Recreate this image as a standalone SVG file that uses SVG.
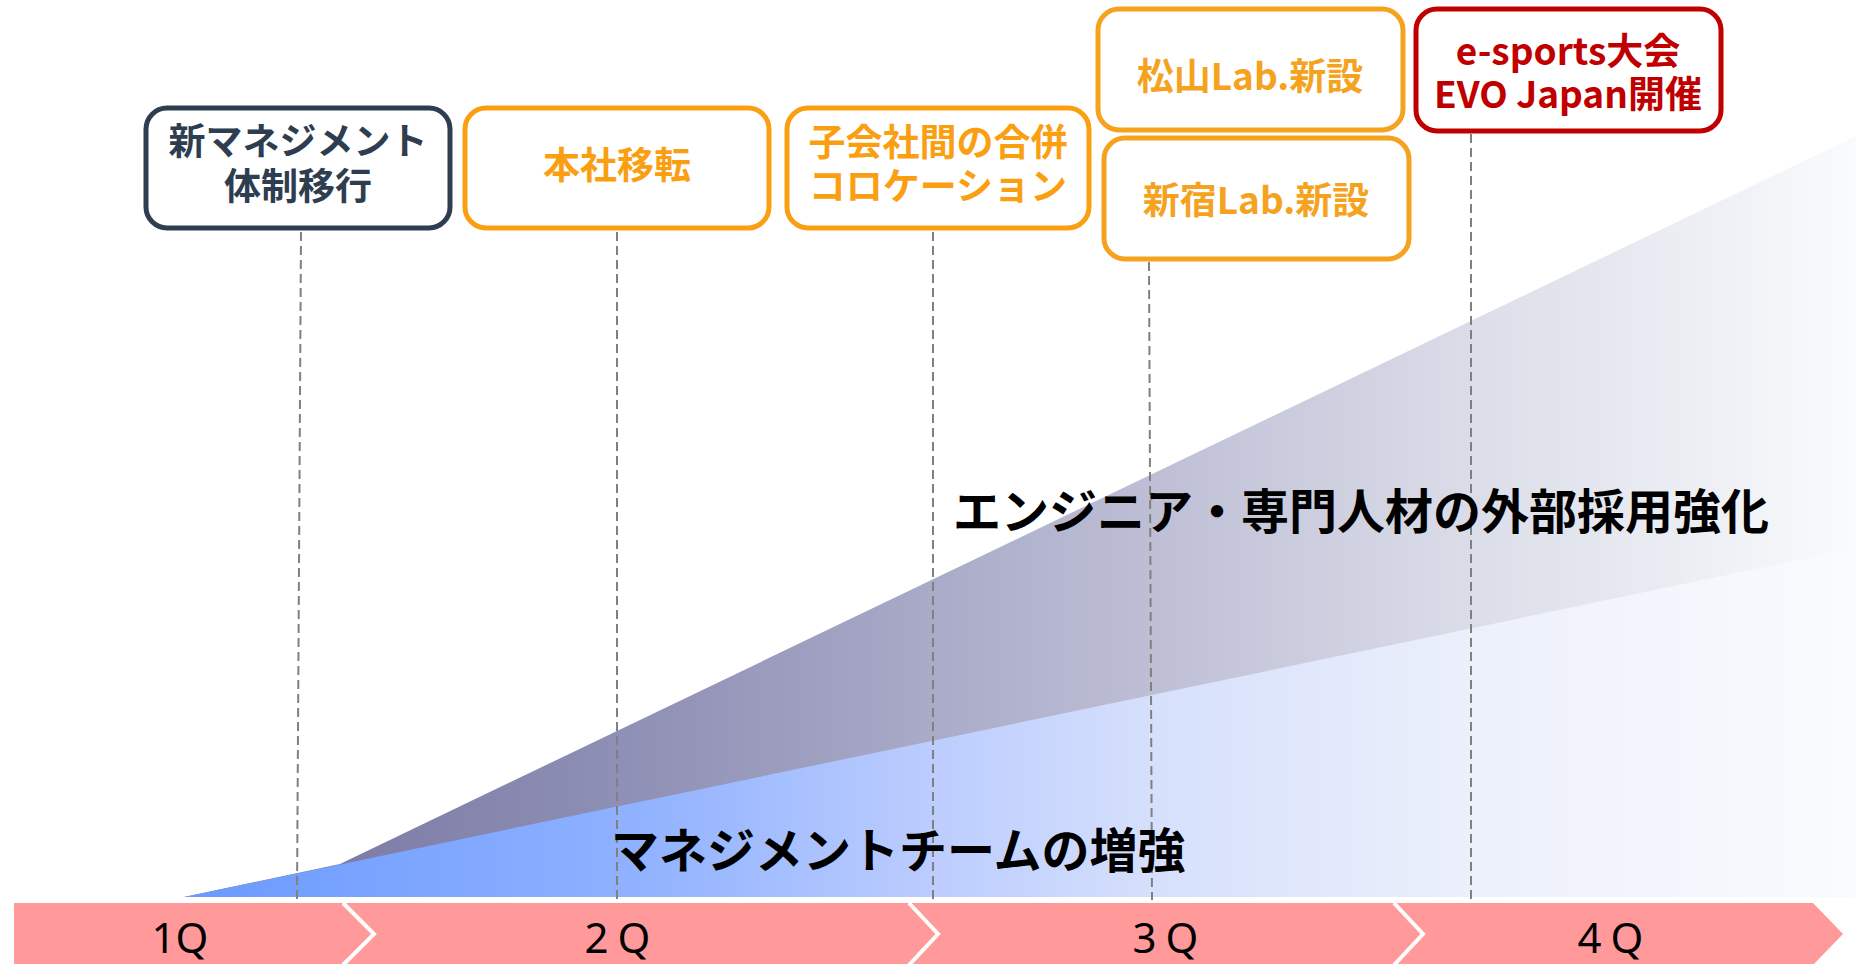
<svg xmlns="http://www.w3.org/2000/svg" width="1856" height="964" viewBox="0 0 1856 964">
<defs>
<linearGradient id="gPurple" gradientUnits="userSpaceOnUse" x1="184" y1="0" x2="1856" y2="0">
<stop offset="0.09" stop-color="#7c7ca6"/>
<stop offset="0.3" stop-color="#9394b8"/>
<stop offset="0.45" stop-color="#aaabc8"/>
<stop offset="0.6" stop-color="#c1c2d7"/>
<stop offset="0.78" stop-color="#dcdee9"/>
<stop offset="1" stop-color="#fafbfd"/>
</linearGradient>
<linearGradient id="gBlue" gradientUnits="userSpaceOnUse" x1="184" y1="0" x2="1856" y2="0">
<stop offset="0" stop-color="#6a9aff"/>
<stop offset="0.26" stop-color="#8eb0ff"/>
<stop offset="0.45" stop-color="#bccdfe"/>
<stop offset="0.58" stop-color="#d6e0fc"/>
<stop offset="0.77" stop-color="#ecf0fb"/>
<stop offset="1" stop-color="#fafbfe"/>
</linearGradient>
<style>
.box{fill:#ffffff;stroke-width:5}
.dark{stroke:#2e3d4f}
.org{stroke:#fb9f12}
.org2{stroke:#f5a21e}
.red{stroke:#c00000}
.bt{font-family:"Noto Sans CJK JP","Noto Sans",sans-serif;font-weight:700;font-size:37px;text-anchor:middle}
.big{font-family:"Noto Sans CJK JP","Noto Sans",sans-serif;font-weight:700;font-size:48px;fill:#000000}
.q{font-family:"Noto Sans","Noto Sans CJK JP",sans-serif;font-weight:400;font-size:42px;fill:#000000;text-anchor:middle}
.dash{stroke:#808080;stroke-width:2;stroke-dasharray:9 5;fill:none}
.sep{stroke:#ffffff;stroke-width:4;fill:none}
</style>
</defs>
<rect x="0" y="0" width="1856" height="964" fill="#ffffff"/>
<g id="wedges">
<polygon points="184,897 340,864 1856,136 1856,897" fill="url(#gPurple)"/>
<polygon points="184,897 1856,548 1856,897" fill="url(#gBlue)"/>
</g>
<g id="timeline">
<polygon points="14,903 1813,903 1843,934 1813,965 14,965" fill="#ff999a"/>
<polyline class="sep" points="343,903 374,934 343,965"/>
<polyline class="sep" points="909,903 938,934 909,965"/>
<polyline class="sep" points="1394,903 1423,934 1394,965"/>
<text class="q" x="180" y="953">1Q</text>
<text class="q" x="622" y="953" letter-spacing="9">2Q</text>
<text class="q" x="1170" y="953" letter-spacing="9">3Q</text>
<text class="q" x="1615" y="953" letter-spacing="9">4Q</text>
</g>
<g id="connectors">
<line class="dash" x1="301" y1="232" x2="297" y2="900"/>
<line class="dash" x1="617" y1="232" x2="617" y2="900"/>
<line class="dash" x1="933" y1="232" x2="933" y2="900"/>
<line class="dash" x1="1149" y1="262" x2="1152" y2="900"/>
<line class="dash" x1="1471" y1="134" x2="1471" y2="900"/>
</g>
<g id="label-engineer">
<text class="big" x="953" y="529">エンジニア・専門人材の外部採用強化</text>
</g>
<g id="label-management">
<text class="big" x="611" y="868">マネジメントチームの増強</text>
</g>
<g id="node-management">
<rect class="box dark" x="146" y="108" width="304" height="120" rx="21"/>
<text class="bt" fill="#2e3d4f"><tspan x="298" y="155">新マネジメント</tspan><tspan x="298" y="200">体制移行</tspan></text>
</g>
<g id="node-hq">
<rect class="box org" x="465" y="108" width="304" height="120" rx="21"/>
<text class="bt" x="617" y="179" fill="#fb9f12">本社移転</text>
</g>
<g id="node-merge">
<rect class="box org" x="787" y="108" width="302" height="120" rx="21"/>
<text class="bt" fill="#fb9f12"><tspan x="938" y="156">子会社間の合併</tspan><tspan x="938" y="200">コロケーション</tspan></text>
</g>
<g id="node-matsuyama">
<rect class="box org2" x="1098" y="9" width="305" height="121" rx="21"/>
<text class="bt" x="1250" y="90" fill="#f5a21e">松山Lab.新設</text>
</g>
<g id="node-shinjuku">
<rect class="box org2" x="1104" y="138" width="305" height="121" rx="21"/>
<text class="bt" x="1256" y="214" fill="#f5a21e">新宿Lab.新設</text>
</g>
<g id="node-evo">
<rect class="box red" x="1416" y="9" width="305" height="122" rx="21"/>
<text class="bt" fill="#c00000"><tspan x="1568" y="65">e-sports大会</tspan><tspan x="1568" y="108">EVO Japan開催</tspan></text>
</g>
</svg>
